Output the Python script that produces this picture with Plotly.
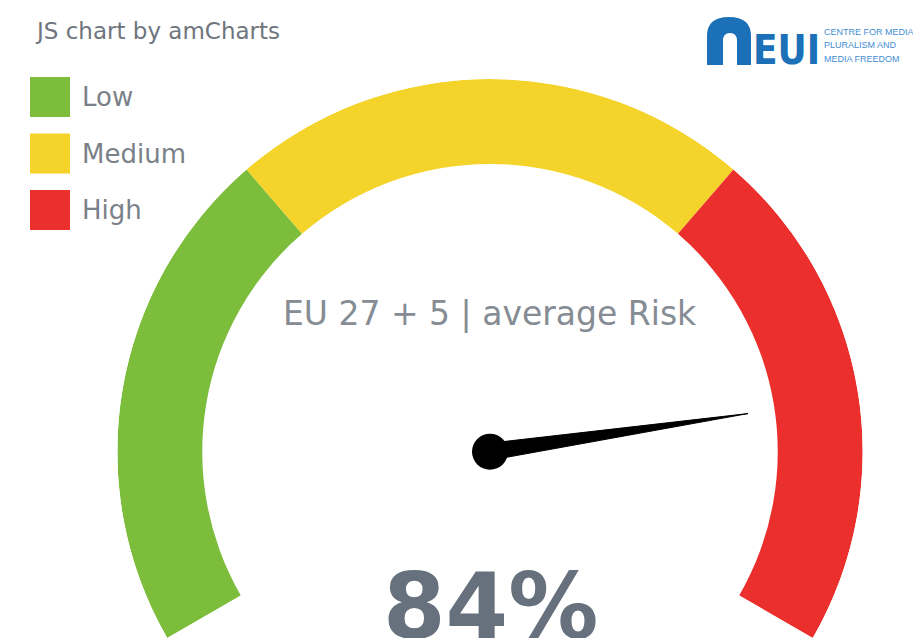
import plotly.graph_objects as go

# ---- data ----
band_labels = ["Low", "Medium", "High"]
band_starts = [0, 33, 67]
band_ends = [33, 67, 100]
band_colors = ["#7cbd3c", "#f4d42a", "#eb2f2c"]
needle_value = 84
value_label = "84%"
gauge_title = "EU 27 + 5 | average Risk"
credit_text = "JS chart by amCharts"
logo_lines = ["CENTRE FOR MEDIA", "PLURALISM AND", "MEDIA FREEDOM"]

# ---- geometry constants ----
W, H = 913, 638
CX, CY = 490, 452
R_OUT, R_IN = 373, 288
START_DEG, SPAN_DEG = 210, 240   # gauge from 210deg (math) clockwise 240deg
VMIN, VMAX = 0, 100
scale = SPAN_DEG / (VMAX - VMIN)

def px(x):
    return x / W

def py(y):
    return 1 - y / H

fig = go.Figure()

# bands
fig.add_trace(go.Barpolar(
    theta=[(s + e) / 2 * scale for s, e in zip(band_starts, band_ends)],
    width=[(e - s) * scale for s, e in zip(band_starts, band_ends)],
    r=[R_OUT - R_IN] * len(band_labels),
    base=[R_IN] * len(band_labels),
    marker=dict(color=band_colors, line=dict(width=0)),
    text=band_labels,
    hoverinfo="text",
    showlegend=False,
))

# needle
nt = (needle_value - VMIN) * scale
needle_len = 261
half_w = 8.5
fig.add_trace(go.Scatterpolar(
    r=[half_w, needle_len, half_w, half_w],
    theta=[nt - 90, nt, nt + 90, nt - 90],
    mode="lines",
    fill="toself",
    fillcolor="#000000",
    line=dict(color="#000000", width=1),
    hoverinfo="skip",
    showlegend=False,
))
fig.add_trace(go.Scatterpolar(
    r=[0], theta=[0], mode="markers",
    marker=dict(color="#000000", size=36),
    hoverinfo="skip", showlegend=False,
))

fig.update_layout(
    width=W, height=H,
    margin=dict(l=0, r=0, t=0, b=0),
    paper_bgcolor="white",
    polar=dict(
        domain=dict(x=[px(CX - R_OUT), px(CX + R_OUT)], y=[0, py(CY - R_OUT)]),
        sector=[START_DEG - SPAN_DEG, START_DEG],
        bgcolor="white",
        radialaxis=dict(range=[0, R_OUT], visible=False, showgrid=False),
        angularaxis=dict(rotation=START_DEG, direction="clockwise",
                         visible=False, showgrid=False, thetaunit="degrees"),
    ),
    font=dict(family="DejaVu Sans"),
)

annotations = []
shapes = []

# credit
annotations.append(dict(x=px(33), y=py(31), xref="paper", yref="paper",
                        text=credit_text, showarrow=False, xanchor="left", yanchor="middle",
                        font=dict(size=23, color="#6f757d", family="DejaVu Sans")))

# legend
for i, (lab, col) in enumerate(zip(band_labels, band_colors)):
    top = 77 + i * 56.5
    shapes.append(dict(type="rect", xref="paper", yref="paper",
                       x0=px(30), x1=px(70), y0=py(top), y1=py(top + 40),
                       fillcolor=col, line=dict(width=0)))
    annotations.append(dict(x=px(80), y=py(top + 20), xref="paper", yref="paper",
                            text=lab, showarrow=False, xanchor="left", yanchor="middle",
                            font=dict(size=26, color="#7b8189", family="DejaVu Sans")))

# gauge title and value
annotations.append(dict(x=px(CX), y=py(313), xref="paper", yref="paper",
                        text=gauge_title, showarrow=False, xanchor="center", yanchor="middle",
                        font=dict(size=33, color="#858c94", family="DejaVu Sans")))
annotations.append(dict(x=px(CX), y=py(606), xref="paper", yref="paper",
                        text="<b>" + value_label + "</b>", showarrow=False,
                        xanchor="center", yanchor="middle",
                        font=dict(size=90, color="#66717d", family="DejaVu Sans")))

# EUI logo
blue = "#1b70b8"
def p(x, y):
    return f"{px(x):.5f},{py(y):.5f}"
arch = (f"M {p(707,65)} L {p(707,36)} Q {p(707,17)} {p(729,17)} Q {p(751,17)} {p(751,36)} "
        f"L {p(751,65)} L {p(737,65)} L {p(737,41)} Q {p(737,33)} {p(730,33)} "
        f"Q {p(723,33)} {p(723,41)} L {p(723,65)} Z")
shapes.append(dict(type="path", xref="paper", yref="paper", path=arch,
                   fillcolor=blue, line=dict(width=0)))
annotations.append(dict(x=px(751), y=py(50), xref="paper", yref="paper",
                        text="<b>EUI</b>", showarrow=False, xanchor="left", yanchor="middle",
                        font=dict(size=40, color=blue, family="DejaVu Sans Condensed")))
for j, line in enumerate(logo_lines):
    annotations.append(dict(x=px(822), y=py(32 + j * 13.5), xref="paper", yref="paper",
                            text=line, showarrow=False, xanchor="left", yanchor="middle",
                            font=dict(size=9, color="#3f8fd2", family="Liberation Sans")))

fig.update_layout(annotations=annotations, shapes=shapes)
fig.write_html("out.html", config={"displayModeBar": False},
               post_script="document.body.style.margin='0px';")
